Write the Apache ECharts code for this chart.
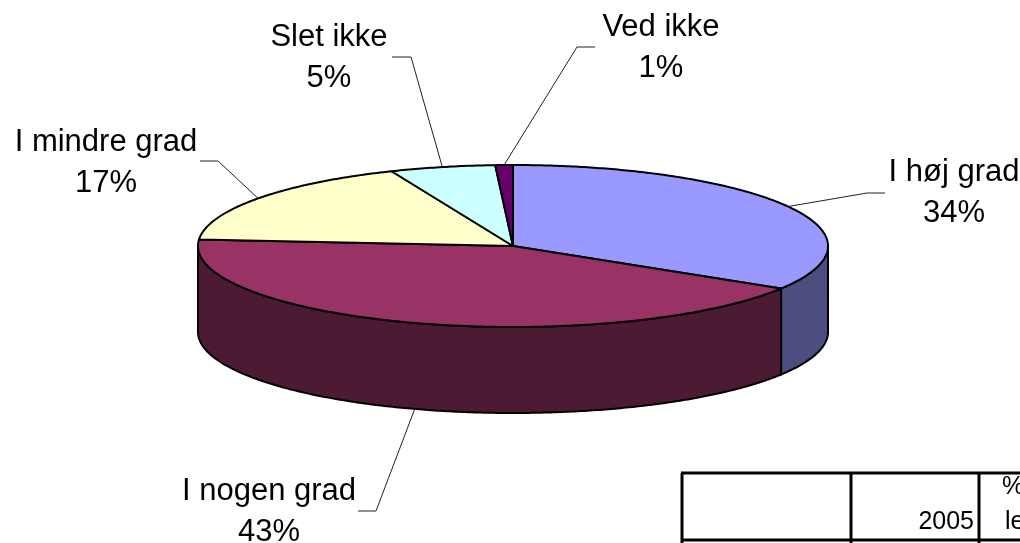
<!DOCTYPE html>
<html>
<head>
<meta charset="utf-8">
<title>I høj grad</title>
<style>
    html, body { margin: 0; padding: 0; background: #fff; overflow: hidden; }
    #chartsmain { width: 1020px; height: 543px; }
</style>
<script src="https://cdn.jsdelivr.net/npm/echarts@6/dist/echarts.min.js"></script>
</head>
<body>
<div id="chartsmain"></div>
<script>
    // data
    var categories = ['I høj grad', 'I nogen grad', 'I mindre grad', 'Slet ikke', 'Ved ikke'];
    var shares = [33.8, 42.5, 17.4, 5.4, 0.9];
    var tableCells = ['2005', '%', 'le'];

    // look
    var topColors = ['#9999FF', '#993366', '#FFFFCC', '#CCFFFF', '#660066'];
    var wallColors = ['#4D4D80', '#4D1A33', '#80806A', '#6A8080', '#330033'];
    var fontName = '"Liberation Sans", Arial, sans-serif';

    // layout of the tilted pie
    var cx = 513, cy = 246, rx = 315, ry = 81, depth = 86;
    var labelSpots = [[954, 193], [269, 512], [106, 163], [329, 58], [661, 48]];
    var elbows = [[867, 193, 885, 193], [376, 511, 358, 511], [218, 161, 200, 161], [411, 57, 392, 57], [577, 47, 595, 47]];

    var total = 0;
    shares.forEach(function (v) { total += v; });

    function rimPoint(angle, drop) {
        return [cx + rx * Math.sin(angle), cy - ry * Math.cos(angle) + (drop || 0)];
    }

    function arcPoints(from, to, drop) {
        var pts = [];
        var steps = Math.max(2, Math.ceil((to - from) / 0.01));
        for (var i = 0; i <= steps; i++) {
            pts.push(rimPoint(from + (to - from) * i / steps, drop));
        }
        return pts;
    }

    function renderSlice(params, api) {
        var i = params.dataIndex;
        var before = 0;
        for (var k = 0; k < i; k++) { before += shares[k]; }
        var from = before / total * Math.PI * 2;
        var to = (before + api.value(0)) / total * Math.PI * 2;
        var mid = (from + to) / 2;
        var children = [];

        // side wall, only the part facing the viewer
        var wallFrom = Math.max(from, Math.PI / 2);
        var wallTo = Math.min(to, Math.PI * 1.5);
        if (wallTo > wallFrom) {
            var wall = arcPoints(wallFrom, wallTo, 0).concat(arcPoints(wallFrom, wallTo, depth).reverse());
            children.push({
                type: 'polygon',
                shape: { points: wall },
                style: { fill: wallColors[i], stroke: '#000', lineWidth: 2, lineJoin: 'round' }
            });
        }

        // top face
        children.push({
            type: 'polygon',
            shape: { points: [[cx, cy]].concat(arcPoints(from, to, 0)) },
            style: { fill: topColors[i], stroke: '#000', lineWidth: 2, lineJoin: 'round' }
        });

        // leader line, the start sits on the visible rim at the middle of the slice
        var inFront = mid > Math.PI / 2 && mid < Math.PI * 1.5;
        var e = elbows[i];
        children.push({
            type: 'polyline',
            shape: { points: [rimPoint(mid, inFront ? depth : 0), [e[0], e[1]], [e[2], e[3]]] },
            style: { fill: null, stroke: '#222', lineWidth: 1 }
        });

        children.push({
            type: 'text',
            style: {
                text: categories[i] + '\n' + Math.round(api.value(0)) + '%',
                x: labelSpots[i][0],
                y: labelSpots[i][1],
                align: 'center',
                verticalAlign: 'middle',
                fontFamily: fontName,
                fontSize: 31,
                lineHeight: 41,
                fill: '#000'
            }
        });

        return { type: 'group', children: children };
    }

    function tableLine(x1, y1, x2, y2) {
        return {
            type: 'line',
            shape: { x1: x1, y1: y1, x2: x2, y2: y2 },
            style: { stroke: '#000', lineWidth: 3 },
            silent: true
        };
    }

    function tableText(text, x, y, align) {
        return {
            type: 'text',
            style: {
                text: text, x: x, y: y, align: align, verticalAlign: 'middle',
                fontFamily: fontName, fontSize: 25, fill: '#000'
            },
            silent: true
        };
    }

    var piechart = echarts.init(document.getElementById('chartsmain'));

    var option1 = {
        animation: false,
        backgroundColor: '#fff',
        series: [
            {
                type: 'custom',
                coordinateSystem: 'none',
                silent: true,
                renderItem: renderSlice,
                data: shares.map(function (v) { return [v]; })
            }
        ],
        graphic: [
            tableLine(681, 473, 1020, 473),
            tableLine(681, 540, 1020, 540),
            tableLine(682, 473, 682, 543),
            tableLine(851, 473, 851, 543),
            tableLine(979, 473, 979, 543),
            tableText(tableCells[0], 974, 522, 'right'),
            tableText(tableCells[1], 1002, 487, 'left'),
            tableText(tableCells[2], 1005, 522, 'left')
        ]
    };
    piechart.setOption(option1);
</script>
</body>
</html>
